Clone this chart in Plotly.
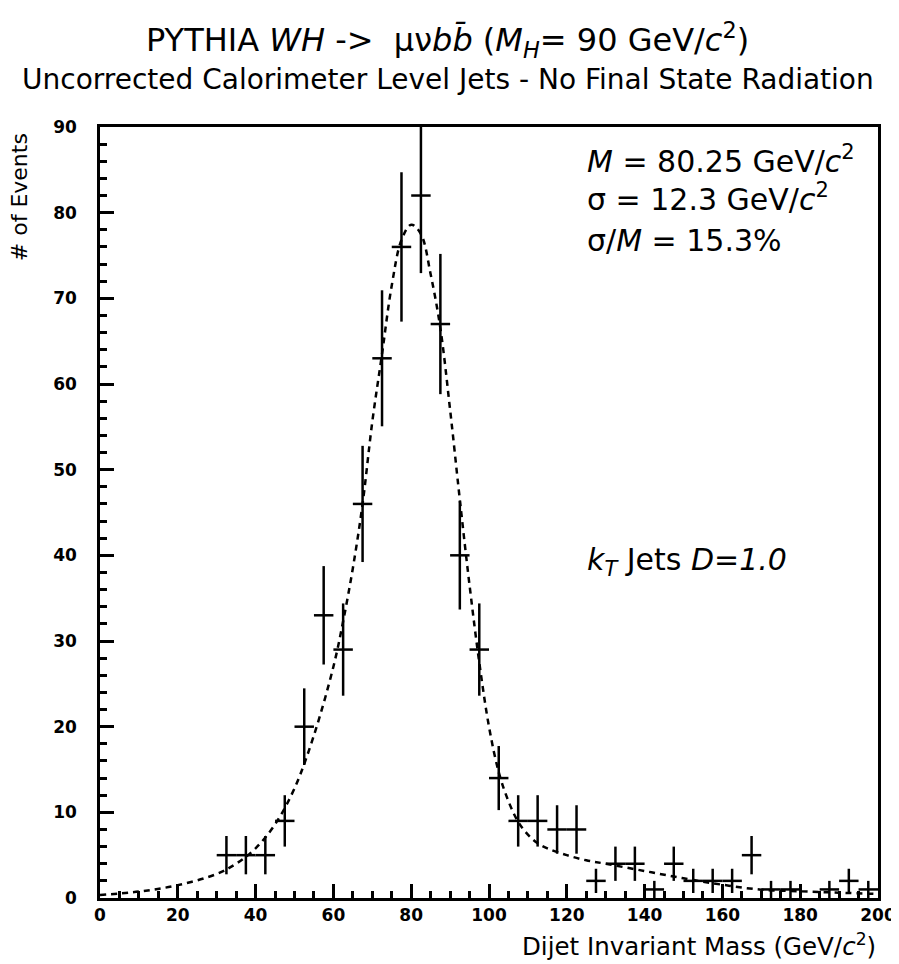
import plotly.graph_objects as go

# istogramma: centri dei bin (larghezza 5 GeV) e conteggi
bin_centers = [32.5, 37.5, 42.5, 47.5, 52.5, 57.5, 62.5, 67.5, 72.5, 77.5,
               82.5, 87.5, 92.5, 97.5, 102.5, 107.5, 112.5, 117.5, 122.5, 127.5,
               132.5, 137.5, 142.5, 147.5, 152.5, 157.5, 162.5, 167.5, 172.5, 177.5,
               187.5, 192.5, 197.5]
counts = [5, 5, 5, 9, 20, 33, 29, 46, 63, 76,
          82, 67, 40, 29, 14, 9, 9, 8, 8, 2,
          4, 4, 1, 4, 2, 2, 2, 5, 1, 1,
          1, 2, 1]
bin_half_width = 2.5

# curva del fit
fit_x = [0, 10, 20, 30, 35, 40, 45, 50, 55, 60, 62.5, 65, 67.5, 70, 72.5, 75, 77.5, 80,
         82.5, 85, 87.5, 90, 92.5, 95, 97.5, 100, 102.5, 105, 107.5, 110, 112.5, 115,
         120, 125, 130, 140, 150, 160, 170, 180, 190, 200]
fit_y = [0.35, 0.75, 1.5, 2.8, 4.0, 5.8, 8.6, 12.8, 19.0, 27.0, 32.3, 38.5, 46.0, 55.6, 63.5, 71.5, 76.8, 78.6,
         77.5, 72.8, 66.5, 57.0, 46.5, 36.5, 27.5, 20.0, 14.7, 11.3, 8.9, 7.4, 6.4, 5.8,
         5.0, 4.4, 4.0, 3.15, 2.3, 1.55, 0.97, 0.78, 0.62, 0.47]

errors = [n ** 0.5 for n in counts]

fig = go.Figure()

fig.add_trace(go.Scatter(
    x=fit_x, y=fit_y, mode="lines",
    line=dict(color="black", width=2.5, dash="6px,5px", shape="spline"),
    hoverinfo="skip", showlegend=False
))

fig.add_trace(go.Scatter(
    x=bin_centers, y=counts, mode="markers",
    marker=dict(size=1, color="black"),
    error_x=dict(type="constant", value=bin_half_width, width=0, thickness=2.5, color="black"),
    error_y=dict(type="data", array=errors, width=0, thickness=2.5, color="black"),
    showlegend=False
))

font_name = "DejaVu Sans, Liberation Sans, sans-serif"

fig.update_xaxes(
    range=[0, 200], dtick=20, ticks="inside", ticklen=14, tickwidth=2.5, tickcolor="black",
    minor=dict(dtick=5, ticks="inside", ticklen=7, tickwidth=2.5, tickcolor="black"),
    showline=True, linewidth=2.5, linecolor="black", mirror=True,
    showgrid=False, zeroline=False,
    tickfont=dict(family=font_name, size=17, color="black", weight="bold")
)
fig.update_yaxes(
    range=[0, 90], dtick=10, ticks="inside", ticklen=14, tickwidth=2.5, tickcolor="black",
    minor=dict(dtick=2, ticks="inside", ticklen=7, tickwidth=2.5, tickcolor="black"),
    showline=True, linewidth=2.5, linecolor="black", mirror=True,
    showgrid=False, zeroline=False, ticklabelstandoff=17,
    tickfont=dict(family=font_name, size=17, color="black", weight="bold")
)

testi = [
    dict(text="PYTHIA <i>WH</i> ->  μν<i>b</i><i>b\u0304</i> (<i>M</i><sub><i>H</i></sub>= 90 GeV/<i>c</i><sup>2</sup>)",
         x=0.447, y=1.113, xanchor="center", size=32),
    dict(text="Uncorrected Calorimeter Level Jets - No Final State Radiation",
         x=0.447, y=1.061, xanchor="center", size=28),
    dict(text="<i>M</i> = 80.25 GeV/<i>c</i><sup>2</sup>", x=0.623, y=0.958, xanchor="left", size=30),
    dict(text="σ = 12.3 GeV/<i>c</i><sup>2</sup>", x=0.623, y=0.909, xanchor="left", size=30),
    dict(text="σ/<i>M</i> = 15.3%", x=0.623, y=0.853, xanchor="left", size=30),
    dict(text="<i>k</i><sub><i>T</i></sub> Jets <i>D=1.0</i>", x=0.623, y=0.436, xanchor="left", size=30),
    dict(text="Dijet Invariant Mass (GeV/<i>c</i><sup>2</sup>)", x=1.0, y=-0.061, xanchor="right", size=24.5),
]
for t in testi:
    fig.add_annotation(text=t["text"], x=t["x"], y=t["y"], xref="paper", yref="paper",
                       xanchor=t["xanchor"], yanchor="middle", showarrow=False,
                       font=dict(family=font_name, size=t["size"], color="black"))

fig.add_annotation(text="# of Events", x=-0.104, y=0.909, xref="paper", yref="paper",
                   textangle=-90, xanchor="center", yanchor="middle", showarrow=False,
                   font=dict(family=font_name, size=22, color="black"))

fig.update_layout(
    width=899, height=964,
    margin=dict(l=92, r=29, t=119, b=74),
    plot_bgcolor="white", paper_bgcolor="white",
)

fig.write_html("out.html")
